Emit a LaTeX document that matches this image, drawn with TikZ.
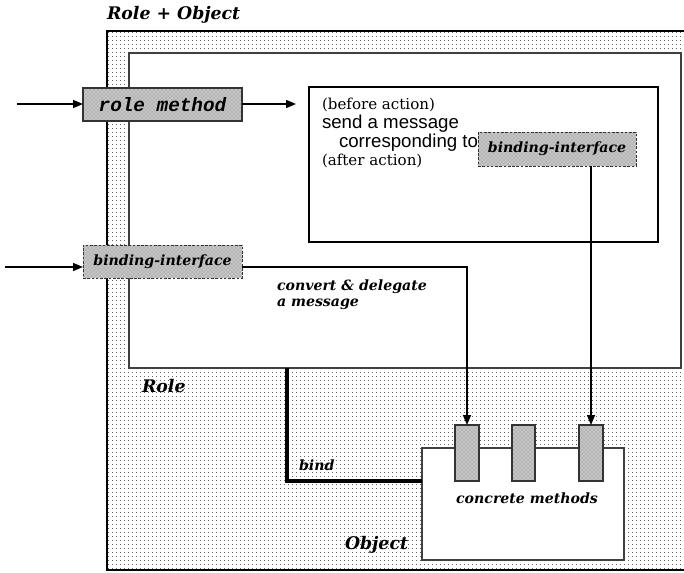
\documentclass[tikz,border=0pt]{standalone}
\usepackage{fontspec}
\setmainfont{DejaVu Serif}
\setsansfont{Liberation Sans}
\setmonofont{Liberation Mono}
\usetikzlibrary{patterns,patterns.meta,arrows.meta,fit}
\tikzdeclarepattern{
  name=sparsedots,
  type=uncolored,
  bounding box={(0,0) and (3pt,3pt)},
  tile size={(3pt,3pt)},
  code={\fill (0,0) rectangle (0.8pt,0.8pt);}
}
\tikzset{
  px/.style={inner sep=0pt, outer sep=0pt},
  outerbox/.style={px, draw=black, line width=2pt, pattern=sparsedots, pattern color=black!60},
  rolebox/.style={px, draw=black!75, line width=1.1pt, fill=white},
  actionbox/.style={px, draw=black, line width=0.8pt, fill=white},
  objbox/.style={px, draw=black!75, line width=1.1pt, fill=white},
  methodbox/.style={px, draw=black!80, line width=0.8pt, preaction={fill=black!22}, pattern=crosshatch dots, pattern color=black!55},
  ifacebox/.style={px, draw=black!80, dashed, dash pattern=on 2pt off 1.2pt, line width=0.7pt, preaction={fill=black!22}, pattern=crosshatch dots, pattern color=black!55, font=\bfseries\itshape\fontsize{10.6}{13}\selectfont},
  rmbox/.style={px, draw=black!80, line width=0.8pt, preaction={fill=black!22}, pattern=crosshatch dots, pattern color=black!55, font=\ttfamily\bfseries\itshape\fontsize{14.5}{15}\selectfont},
  arr/.style={line width=1.1pt, -{Triangle[length=7.5pt,width=6pt]}},
  bindline/.style={line width=3pt},
  lbl/.style={px, font=\bfseries\itshape\fontsize{10.6}{13}\selectfont},
  biglbl/.style={px, font=\bfseries\itshape\fontsize{13}{16}\selectfont},
  serif/.style={font=\rmfamily\fontsize{11.3}{14}\selectfont},
  sans/.style={font=\sffamily\fontsize{14}{15}\selectfont},
}
\begin{document}
\begin{tikzpicture}[x=0.75pt,y=-0.75pt]
\useasboundingbox (0,0) rectangle (684,572);
\begin{scope}
\clip (0,0) rectangle (684,572);
\node[outerbox, fit={(107,31)(692,570)}] (outer) {};
\node[rolebox, fit={(129,53)(681,368)}] (role) {};
\end{scope}
\node[actionbox, fit={(309,87)(658,242)}] (action) {};
\node[objbox, fit={(422,448)(624,560)}] (object) {};
% method boxes
\node[methodbox, fit={(455,425)(479,481)}] (m1) {};
\node[methodbox, fit={(512,425)(535,481)}] (m2) {};
\node[methodbox, fit={(579,425)(603,481)}] (m3) {};
% interface boxes
\node[rmbox, minimum width=119.25pt, minimum height=24.75pt] (rm) at (162.5,104.5) {role method};
\node[ifacebox, minimum width=119.25pt, minimum height=24.75pt] (bi) at (162.5,261.5) {binding-interface};
\node[ifacebox, minimum width=118.5pt, minimum height=25.5pt] (bi2) at (557,149) {binding-interface};
% texts in action box
\node[px, serif, anchor=base west] (t1) at (322,109) {(before action)};
\node[px, sans, anchor=base west] (t2) at (322,128) {send a message};
\node[px, sans, anchor=base west] (t3) at (339,147) {corresponding to};
\node[px, serif, anchor=base west] (t4) at (322,165) {(after action)};
% labels
\node[biglbl, anchor=base west] (title) at (107,19) {Role + Object};
\node[biglbl, anchor=base west] (rolelbl) at (142,392) {Role};
\node[biglbl, anchor=base west] (objlbl) at (345,549) {Object};
\node[lbl, anchor=base west] (bindlbl) at (299,470) {bind};
\node[lbl, anchor=base] (cm) at (527,503) {concrete methods};
\node[lbl, anchor=base west, align=left] (conv) at (277,290) {convert \& delegate};
\node[lbl, anchor=base west] (conv2) at (277,306) {a message};
% connectors
\coordinate (in1) at (17,104);
\coordinate (out1) at (296,104);
\coordinate (in2) at (5,267);
\coordinate (bindtop) at (287,368);
\draw[arr] (in1) -- (rm.west |- in1);
\draw[arr] (rm.east |- in1) -- (out1);
\draw[arr] (in2) -- (bi.west |- in2);
\draw[arr] (bi.east |- in2) -| (m1.north);
\draw[arr] (bi2.south -| m3.north) -- (m3.north);
\draw[bindline] (bindtop) |- (object.west |- 0,481);
\end{tikzpicture}
\end{document}
